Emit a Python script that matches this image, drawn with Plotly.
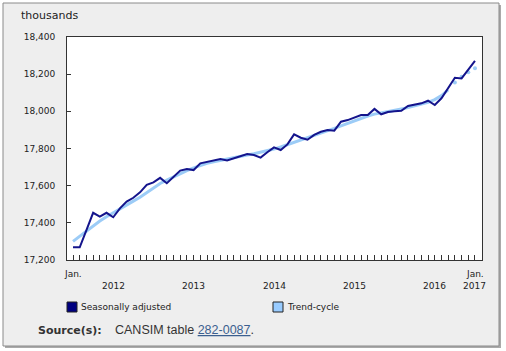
import plotly.graph_objects as go

# ---- data (monthly, Jan 2012 .. Jan 2017), thousands ----
month_index = list(range(61))
seasonally_adjusted = [
    17268, 17268, 17361, 17454, 17433, 17454, 17430, 17478, 17514, 17535, 17564, 17604,
    17618, 17642, 17613, 17648, 17681, 17690, 17684, 17720, 17729, 17738, 17743, 17736,
    17747, 17756, 17770, 17765, 17751, 17780, 17806, 17792, 17822, 17876, 17858, 17847,
    17873, 17890, 17900, 17896, 17944, 17953, 17968, 17980, 17980, 18013, 17984, 17996,
    18000, 18003, 18029, 18034, 18043, 18057, 18034, 18070, 18129, 18181, 18177, 18222,
    18271,
]
trend_cycle = [
    17300, 17328, 17357, 17385, 17410, 17433, 17455, 17476, 17497, 17517, 17538, 17562,
    17590, 17612, 17630, 17648, 17665, 17681, 17696, 17709, 17720, 17729, 17737, 17744,
    17751, 17758, 17765, 17772, 17779, 17787, 17797, 17808, 17820, 17833, 17846, 17858,
    17870, 17882, 17895, 17908, 17922, 17936, 17950, 17963, 17975, 17985, 17993, 18000,
    18007, 18013, 18020, 18028, 18037, 18048, 18063, 18085, 18115, 18155, 18186, 18210,
    18232,
]
n_solid_trend = 57  # last points of the trend are shown as dots
year_labels = ["2012", "2013", "2014", "2015", "2016"]
year_label_pos = [6, 18, 30, 42, 54]
major_ticks = [0, 12, 24, 36, 48, 60]
y_ticks = [17200, 17400, 17600, 17800, 18000, 18200, 18400]

SA_COLOR = "#14148c"
TR_COLOR = "#9cccf7"
TXT = "#222222"
FONT = "DejaVu Sans"

W, H = 506, 351
L, R, T, B = 67, 482, 37, 260


def xp(px):
    return (px - L) / (R - L)


def yp(py):
    return (B - py) / (B - T)


fig = go.Figure()
fig.add_trace(go.Scatter(
    x=month_index[:n_solid_trend], y=trend_cycle[:n_solid_trend], mode="lines",
    line=dict(color=TR_COLOR, width=3), name="Trend-cycle", showlegend=False,
))
fig.add_trace(go.Scatter(
    x=month_index[n_solid_trend:], y=trend_cycle[n_solid_trend:], mode="markers",
    marker=dict(color=TR_COLOR, size=4), name="Trend-cycle", showlegend=False,
))
fig.add_trace(go.Scatter(
    x=month_index, y=seasonally_adjusted, mode="lines",
    line=dict(color=SA_COLOR, width=2), name="Seasonally adjusted", showlegend=False,
))

shapes = [
    # grey outer panel with shadow
    dict(type="rect", xref="paper", yref="paper", layer="below",
         x0=xp(5), x1=xp(501), y0=yp(348), y1=yp(5),
         fillcolor="#aaaaaa", line=dict(width=0)),
    dict(type="rect", xref="paper", yref="paper", layer="below",
         x0=xp(3), x1=xp(499), y0=yp(346), y1=yp(3),
         fillcolor="#eeeeee", line=dict(color="#8a8a8a", width=1)),
    # white plot area
    dict(type="rect", xref="paper", yref="paper", layer="below",
         x0=0, x1=1, y0=0, y1=1, fillcolor="white", line=dict(width=0)),
    # legend swatches
    dict(type="rect", xref="paper", yref="paper",
         x0=xp(67), x1=xp(77), y0=yp(312), y1=yp(302),
         fillcolor="#000080", line=dict(color="#222222", width=1)),
    dict(type="rect", xref="paper", yref="paper",
         x0=xp(273), x1=xp(283), y0=yp(312), y1=yp(302),
         fillcolor="#99ccff", line=dict(color="#222222", width=1)),
]

ann = []
ann.append(dict(text="thousands", xref="paper", yref="paper", x=xp(19), y=yp(16),
                xanchor="left", yanchor="middle", showarrow=False,
                font=dict(family=FONT, size=11, color=TXT)))
for lab, pos in zip(year_labels, year_label_pos):
    ann.append(dict(text=lab, xref="x", yref="paper", x=pos, y=yp(286),
                    xanchor="center", yanchor="middle", showarrow=False,
                    font=dict(family=FONT, size=9, color=TXT)))
ann.append(dict(text="Jan.", xref="x", yref="paper", x=0, y=yp(274),
                xanchor="center", yanchor="middle", showarrow=False,
                font=dict(family=FONT, size=9, color=TXT)))
ann.append(dict(text="Jan.", xref="x", yref="paper", x=60, y=yp(274),
                xanchor="center", yanchor="middle", showarrow=False,
                font=dict(family=FONT, size=9, color=TXT)))
ann.append(dict(text="2017", xref="x", yref="paper", x=60, y=yp(286),
                xanchor="center", yanchor="middle", showarrow=False,
                font=dict(family=FONT, size=9, color=TXT)))
ann.append(dict(text="Seasonally adjusted", xref="paper", yref="paper", x=xp(78.5), y=yp(307),
                xanchor="left", yanchor="middle", showarrow=False,
                font=dict(family=FONT, size=9, color=TXT)))
ann.append(dict(text="Trend-cycle", xref="paper", yref="paper", x=xp(284.5), y=yp(307),
                xanchor="left", yanchor="middle", showarrow=False,
                font=dict(family=FONT, size=9, color=TXT)))
ann.append(dict(text="<b>Source(s):</b>", xref="paper", yref="paper", x=xp(36), y=yp(330),
                xanchor="left", yanchor="middle", showarrow=False,
                font=dict(family=FONT, size=11, color="#333333")))
ann.append(dict(text="CANSIM table <span style='color:#3b5f8f'><u>282-0087</u></span>.",
                xref="paper", yref="paper", x=xp(113), y=yp(330),
                xanchor="left", yanchor="middle", showarrow=False,
                font=dict(family="Liberation Sans", size=12.5, color="#333333")))

fig.update_layout(
    width=W, height=H,
    margin=dict(l=L, r=W - R, t=T, b=H - B, pad=0),
    paper_bgcolor="white", plot_bgcolor="rgba(0,0,0,0)",
    shapes=shapes, annotations=ann, showlegend=False,
    font=dict(family=FONT, size=9, color=TXT),
)
fig.update_xaxes(
    range=[-0.9, 61.05], showgrid=False, zeroline=False,
    showline=True, linecolor="#333333", linewidth=1, mirror=True,
    tickmode="array", tickvals=major_ticks, ticktext=[""] * len(major_ticks),
    ticks="inside", ticklen=13, tickcolor="#333333", tickwidth=1,
    minor=dict(tickmode="array", tickvals=month_index, ticks="inside",
               ticklen=5, tickcolor="#333333", tickwidth=1),
)
fig.update_yaxes(
    range=[17200, 18400], showgrid=False, zeroline=False,
    showline=True, linecolor="#333333", linewidth=1, mirror=True,
    tickmode="array", tickvals=y_ticks, tickformat=",d",
    ticks="inside", ticklen=4, tickcolor="#333333", tickwidth=1,
    ticklabelstandoff=9, tickfont=dict(family=FONT, size=9, color=TXT),
)

fig.write_html("out.html")
